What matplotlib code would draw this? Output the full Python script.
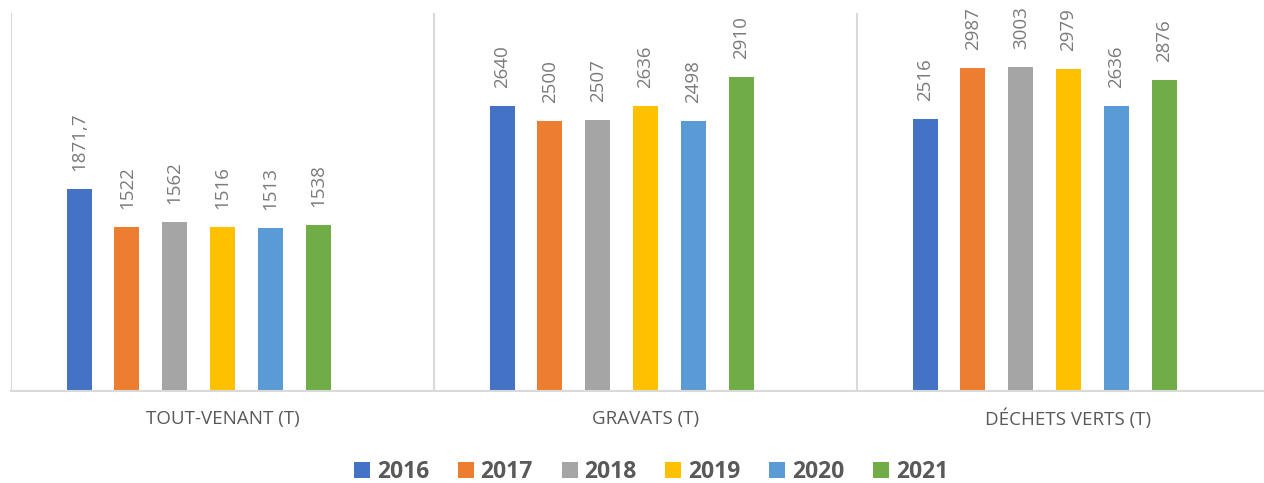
import matplotlib
matplotlib.use("Agg")
import matplotlib.pyplot as plt
from matplotlib.patches import Patch
import numpy as np

categories = ["TOUT-VENANT (T)", "GRAVATS (T)", "DÉCHETS VERTS (T)"]
years = ["2016", "2017", "2018", "2019", "2020", "2021"]
v2016 = [1871.7, 2640, 2516]
v2017 = [1522, 2500, 2987]
v2018 = [1562, 2507, 3003]
v2019 = [1516, 2636, 2979]
v2020 = [1513, 2498, 2636]
v2021 = [1538, 2910, 2876]
series = [v2016, v2017, v2018, v2019, v2020, v2021]
colors = ["#4472C4", "#ED7D31", "#A5A5A5", "#FFC000", "#5B9BD5", "#70AD47"]

plt.rcParams['font.family'] = ['Open Sans', 'DejaVu Sans']

W, H = 1264, 483
fig = plt.figure(figsize=(W / 100, H / 100), dpi=100)
left_px, right_px, top_px, base_px = 11, 1280, 13, 391
ax = fig.add_axes([left_px / W, (H - base_px) / H,
                   (right_px - left_px) / W, (base_px - top_px) / H])

x = np.arange(len(categories))
pitch = 47.8 / 423.0
bw = 25.0 / 423.0


def fmt(v):
    if float(v).is_integer():
        return str(int(v))
    return f"{v}".replace(".", ",")


for i, (vals, c) in enumerate(zip(series, colors)):
    xs = x + (i - 3) * pitch
    bars = ax.bar(xs, vals, width=bw, color=c, zorder=2)
    for b, v in zip(bars, vals):
        ax.annotate(fmt(v), (b.get_x() + b.get_width() / 2, b.get_height()),
                    xytext=(0, 13), textcoords="offset points",
                    rotation=90, ha="center", va="bottom",
                    fontsize=13.5, color="#7a7a7a")

ax.set_xlim(-0.5, 2.5)
ax.set_ylim(0, 3500)
ax.set_yticks([])
for s in ["top", "right", "left"]:
    ax.spines[s].set_visible(False)
ax.spines["bottom"].set_color("#D9D9D9")
ax.spines["bottom"].set_linewidth(1.5)
for xv in [-0.5, 0.5, 1.5, 2.5]:
    ax.axvline(xv, color="#D9D9D9", linewidth=1.5, zorder=1)

ax.set_xticks(x)
ax.set_xticklabels(categories)
ax.tick_params(axis="x", length=0, pad=20, labelsize=13.5, labelcolor="#595959")
for lbl in ax.get_xticklabels():
    lbl.set_va("center")

handles = [Patch(facecolor=c, edgecolor="none", label=y) for y, c in zip(years, colors)]
leg = fig.legend(handles=handles, loc="center", bbox_to_anchor=(651 / W, (H - 472) / H),
                 ncol=6, frameon=False, handlelength=0.7, handleheight=0.7,
                 handletextpad=0.3, columnspacing=1.25,
                 prop={"size": 16.5, "weight": "bold"})
for t in leg.get_texts():
    t.set_color("#595959")

fig.savefig("out.png", dpi=100)
